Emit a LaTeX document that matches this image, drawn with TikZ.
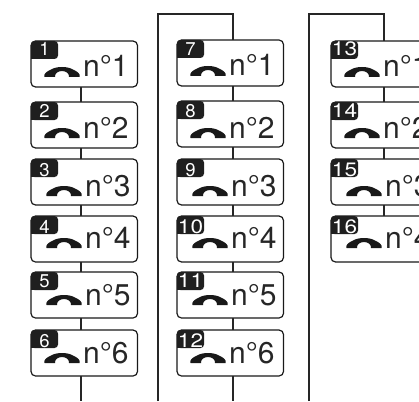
\documentclass[tikz,border=0pt]{standalone}
\usepackage{fontspec}
\setmainfont{TeX Gyre Heros}
\tikzset{
  x=1pt,y=-1pt,
  wire/.style={line width=1.2pt,draw=black!85},
  cell/.style={draw=black!90,line width=1.2pt,rounded corners=4.5pt,minimum width=106.5pt,minimum height=46pt,inner sep=0pt,outer sep=0pt},
  badge/.style={fill=black!88,draw=none},
  badgetext/.style={text=white,font=\fontsize{18.5}{18.5}\selectfont,anchor=base,inner sep=0pt},
  nametext/.style={text=black!85,font=\fontsize{30}{30}\selectfont,anchor=base west,inner sep=0pt},
}
\newcommand{\handset}[2]{% x,y of left top of handset
  \fill[black!90,shift={(#1,#2)}] (0.5,10) .. controls (-0.5,7) and (2,5) .. (6,3)
   .. controls (10,0.6) and (14,0) .. (18,0) .. controls (22,0) and (26,0.6) .. (30,3)
   .. controls (34,5) and (36.5,7) .. (35.5,10) -- (25,10)
   .. controls (25.5,6.5) and (22,4) .. (18,4) .. controls (14,4) and (10.5,6.5) .. (11,10) -- cycle;
}
% #1 index, #2 left x, #3 top y, #4 badge text, #5 name text, #6 content x offset, #7 baseline offset, #8 badge baseline offset
\newcommand{\phonecell}[8]{%
  \node[cell] (b#1) at (#2+53.25,#3+23) {};
  \fill[badge,rounded corners=3.5pt] (#2,#3+18) -- (#2,#3) -- (#2+27,#3) -- (#2+27,#3+18) -- cycle;
  \fill[badge] (#2,#3+18) rectangle (#2+4,#3+14);
  \node[badgetext] (l#1) at (#2+13.5,#3+#8) {#4};
  \handset{#2+#6}{#3+#7-10}
  \node[nametext] (n#1) at (#2+#6+39,#3+#7) {#5};
}
\newcommand{\twodig}[1]{\scalebox{1.22}[1.05]{#1}}
\begin{document}
\begin{tikzpicture}
\useasboundingbox (0,0) rectangle (419,401);
\clip (0,0) rectangle (419,401);
\coordinate (c1) at (81,401);
\coordinate (c2) at (233,14);
\coordinate (c2l) at (158,14);
\coordinate (c2b) at (158,401);
\coordinate (c2e) at (233,401);
\coordinate (c3) at (384,14);
\coordinate (c3l) at (309,14);
\coordinate (c3b) at (309,401);
\phonecell{1}{31}{41}{1}{n°1}{13}{36}{15}
\phonecell{2}{31}{102}{2}{n°2}{13}{36}{15}
\phonecell{3}{31}{159}{3}{n°3}{15}{37}{17}
\phonecell{4}{31}{216}{4}{n°4}{15}{32}{17}
\phonecell{5}{31}{272}{5}{n°5}{15}{33}{15}
\phonecell{6}{31}{330}{6}{n°6}{13}{33}{17}
\phonecell{7}{177}{40}{7}{n°1}{13}{36}{16}
\phonecell{8}{177}{101}{8}{n°2}{13}{37}{16}
\phonecell{9}{177}{159}{9}{n°3}{15}{37}{17}
\phonecell{10}{177}{216}{\twodig{10}}{n°4}{15}{32}{17}
\phonecell{11}{177}{272}{\twodig{11}}{n°5}{15}{33}{15}
\phonecell{12}{177}{330}{\twodig{12}}{n°6}{13}{33}{17}
\phonecell{13}{331}{41}{\twodig{13}}{n°1}{13}{36}{15}
\phonecell{14}{331}{102}{\twodig{14}}{n°2}{13}{36}{15}
\phonecell{15}{331}{159}{\twodig{15}}{n°3}{15}{37}{17}
\phonecell{16}{331}{216}{\twodig{16}}{n°4}{15}{32}{17}
\foreach \a/\b in {1/2,2/3,3/4,4/5,5/6}
  \draw[wire] (b\a.south -| c1) -- (b\b.north -| c1);
\foreach \a/\b in {7/8,8/9,9/10,10/11,11/12}
  \draw[wire] (b\a.south -| c2) -- (b\b.north -| c2);
\foreach \a/\b in {13/14,14/15,15/16}
  \draw[wire] (b\a.south -| c3) -- (b\b.north -| c3);
\draw[wire] (b6.south -| c1) -- (c1);
\draw[wire] (c2b) -- (c2l) -- (c2) -- (b7.north -| c2);
\draw[wire] (b12.south -| c2) -- (c2e);
\draw[wire] (c3b) -- (c3l) -- (c3) -- (b13.north -| c3);
\end{tikzpicture}
\end{document}
